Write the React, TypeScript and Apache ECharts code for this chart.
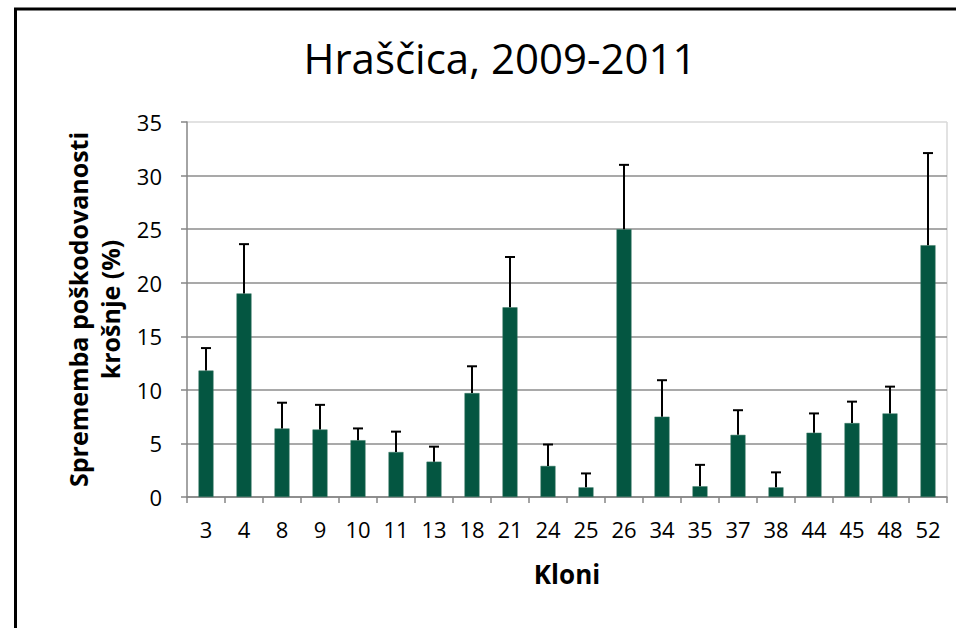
import React, { useEffect, useRef } from "react";
import * as echarts from "echarts";

const categories = ["3", "4", "8", "9", "10", "11", "13", "18", "21", "24", "25", "26", "34", "35", "37", "38", "44", "45", "48", "52"];
const values = [11.8, 19.0, 6.4, 6.3, 5.3, 4.2, 3.3, 9.7, 17.7, 2.9, 0.9, 25.0, 7.5, 1.0, 5.8, 0.9, 6.0, 6.9, 7.8, 23.5];
const errors = [2.1, 4.6, 2.4, 2.3, 1.1, 1.9, 1.4, 2.5, 4.7, 2.0, 1.3, 6.0, 3.4, 2.0, 2.3, 1.4, 1.8, 2.0, 2.5, 8.6];
const yTicks = [0, 5, 10, 15, 20, 25, 30, 35];

const FONT = "'Open Sans', 'Liberation Sans', sans-serif";

export default function App() {
  const ref = useRef<HTMLDivElement>(null);
  useEffect(() => {
    if (!ref.current) return;
    const chart = echarts.init(ref.current, null, { renderer: "svg" });
    const errData = values.map((v, i) => [i, v, v + errors[i]]);
    chart.setOption({
      animation: false,
      backgroundColor: "#fff",
      title: {
        text: "Hraščica, 2009-2011",
        left: 495,
        top: 31,
        textAlign: "center",
        textStyle: { fontFamily: FONT, fontWeight: "normal", fontSize: 42, color: "#000" },
      },
      graphic: [
        {
          type: "rect",
          shape: { x: 15.5, y: 9, width: 1000, height: 700 },
          style: { fill: "none", stroke: "#000", lineWidth: 3 },
          silent: true,
        },
        {
          type: "line",
          shape: { x1: 947, y1: 122, x2: 947, y2: 497 },
          style: { stroke: "#d9d9d9", lineWidth: 1.5 },
          silent: true,
        },
      ],
      grid: { left: 187, top: 122, width: 760, height: 375, containLabel: false },
      xAxis: {
        type: "category",
        data: categories,
        name: "Kloni",
        nameLocation: "middle",
        nameGap: 64,
        nameTextStyle: { fontFamily: FONT, fontWeight: "bold", fontSize: 26, color: "#000" },
        axisLine: { lineStyle: { color: "#868686", width: 1.5 } },
        axisTick: { show: true, alignWithLabel: false, length: 6, lineStyle: { color: "#868686", width: 1.5 } },
        axisLabel: { fontFamily: FONT, fontSize: 22, color: "#000", margin: 21, interval: 0 },
      },
      yAxis: {
        type: "value",
        min: 0,
        max: 35,
        interval: 5,
        name: "Sprememba poškodovanosti\nkrošnje (%)",
        nameLocation: "middle",
        nameGap: 56,
        nameRotate: 90,
        nameTextStyle: { fontFamily: FONT, fontWeight: "bold", fontSize: 25, color: "#000", lineHeight: 32, align: "center" },
        axisLine: { show: true, lineStyle: { color: "#868686", width: 1.5 } },
        axisTick: { show: true, length: 6, lineStyle: { color: "#868686", width: 1.5 } },
        axisLabel: {
          fontFamily: FONT,
          fontSize: 22,
          color: "#000",
          margin: 25,
          formatter: (v: number) => (yTicks.includes(v) ? String(v) : ""),
        },
        splitLine: {
          show: true,
          lineStyle: {
            color: ["#8c8c8c", "#8c8c8c", "#8c8c8c", "#8c8c8c", "#8c8c8c", "#8c8c8c", "#8c8c8c", "#d9d9d9"],
            width: 1.5,
          },
        },
      },
      series: [
        {
          type: "bar",
          data: values,
          barWidth: 15,
          itemStyle: { color: "#045641", borderColor: "#3d7a66", borderWidth: 0.5 },
          z: 2,
        },
        {
          type: "custom",
          data: errData,
          z: 3,
          renderItem: (params: any, api: any) => {
            const idx = api.value(0);
            const lo = api.coord([idx, api.value(1)]);
            const hi = api.coord([idx, api.value(2)]);
            const x = lo[0];
            const half = 5;
            return {
              type: "group",
              children: [
                { type: "line", shape: { x1: x, y1: lo[1], x2: x, y2: hi[1] }, style: { stroke: "#000", lineWidth: 2 } },
                { type: "line", shape: { x1: x - half, y1: hi[1], x2: x + half, y2: hi[1] }, style: { stroke: "#000", lineWidth: 2 } },
              ],
            };
          },
        },
      ],
    });
    return () => chart.dispose();
  }, []);
  return <div ref={ref} style={{ position: "absolute", left: 0, top: 0, width: 956, height: 628 }} />;
}
